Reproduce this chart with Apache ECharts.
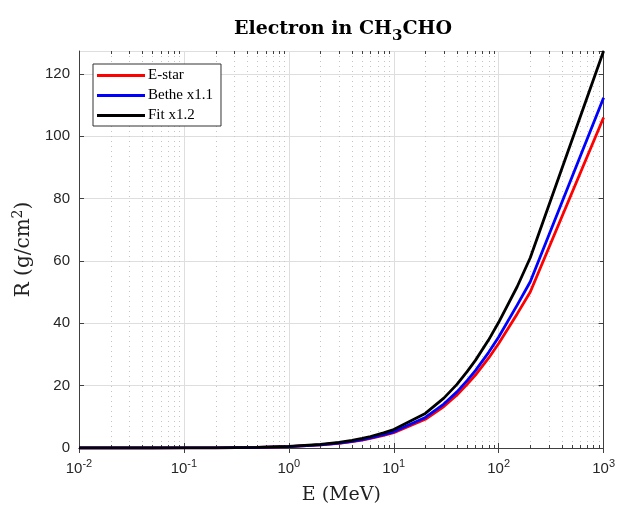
<!DOCTYPE html>
<html>
<head>
<meta charset="utf-8">
<script src="https://cdn.jsdelivr.net/npm/echarts@6/dist/echarts.min.js"></script>
<style>
  html, body { margin: 0; padding: 0; background: #fff; }
  #chart { width: 618px; height: 510px; }
</style>
</head>
<body>
<div id="chart"></div>
<script>
// energies (MeV)
const energy = [0.01, 0.02, 0.05, 0.1, 0.2, 0.5, 1, 2, 3, 4, 5, 6, 8, 10, 20, 30, 40, 50, 60, 80, 100, 150, 200, 1000];

// ranges R (g/cm^2)
const eStar = [0.0003, 0.0009, 0.0045, 0.015, 0.046, 0.18, 0.44, 0.98, 1.52, 2.05, 2.56, 3.06, 4.05, 4.9, 9.2, 13.3, 17.0, 20.4, 23.4, 28.8, 33.5, 43.0, 50.0, 106.0];
const bethe = [0.0003, 0.001, 0.005, 0.016, 0.05, 0.19, 0.46, 1.03, 1.6, 2.15, 2.7, 3.22, 4.25, 5.2, 9.8, 14.1, 18.0, 21.6, 24.8, 30.6, 35.6, 45.8, 53.3, 112.3];
const fit = [0.0004, 0.0011, 0.0055, 0.018, 0.055, 0.22, 0.53, 1.18, 1.83, 2.46, 3.08, 3.68, 4.86, 5.9, 11.1, 16.0, 20.4, 24.5, 28.1, 34.6, 40.3, 51.7, 61.0, 127.3];

const seriesNames = ['E-star', 'Bethe x1.1', 'Fit x1.2'];
const seriesColors = ['#ff0000', '#0000ff', '#000000'];

// minor log grid positions (2..9 in every decade)
const minorTicks = [];
[0.01, 0.1, 1, 10, 100].forEach(d => {
  for (let k = 2; k <= 9; k++) minorTicks.push(+(d * k).toPrecision(3));
});

const chart = echarts.init(document.getElementById('chart'));

const axisColor = '#404040';
const labelFont = 'Liberation Sans, Arial, sans-serif';
const serif = 'DejaVu Serif, serif';
const legendSerif = 'Liberation Serif, Times New Roman, serif';

function pairs(ys) {
  return energy.map((e, i) => [e, ys[i]]);
}

const option = {
  animation: false,
  title: {
    text: '{b|Electron in CH}{s|3}{b|CHO}',
    left: 338,
    top: 10,
    textAlign: 'center',
    textStyle: {
      rich: {
        b: { fontFamily: serif, fontWeight: 'bold', fontSize: 19, color: '#000' },
        s: { fontFamily: serif, fontWeight: 'bold', fontSize: 15, color: '#000', padding: [14, 0, 0, 0] }
      }
    }
  },
  grid: { left: 79, right: 13, top: 51, bottom: 57 },
  legend: {
    data: seriesNames,
    orient: 'vertical',
    left: 93,
    top: 64,
    itemWidth: 48,
    itemHeight: 3,
    itemGap: 5,
    icon: 'rect',
    padding: [4, 8, 3, 4],
    borderColor: '#333',
    borderWidth: 1,
    backgroundColor: '#fff',
    textStyle: { fontFamily: legendSerif, fontSize: 15, color: '#000', padding: [0, 0, 0, -2] }
  },
  xAxis: [
    {
      type: 'log',
      logBase: 10,
      min: 0.01,
      max: 1000,
      name: 'E (MeV)',
      nameLocation: 'middle',
      nameGap: 38,
      nameTextStyle: { fontFamily: serif, fontSize: 19, color: '#222' },
      axisLine: { lineStyle: { color: axisColor, width: 1 } },
      axisTick: { inside: true, length: 5, lineStyle: { color: axisColor } },
      axisLabel: {
        margin: 10,
        formatter: v => '{n|10}{e|' + Math.round(Math.log10(v)) + '}',
        rich: {
          n: { fontFamily: labelFont, fontSize: 15, color: '#262626' },
          e: { fontFamily: labelFont, fontSize: 11, color: '#262626', padding: [0, 0, 10, 0] }
        }
      },
      splitLine: { show: true, lineStyle: { color: '#dedede', width: 1 } }
    },
    {
      type: 'log',
      logBase: 10,
      min: 0.01,
      max: 1000,
      position: 'top',
      axisLine: { lineStyle: { color: axisColor, width: 1 } },
      axisTick: { inside: true, length: 5, lineStyle: { color: axisColor } },
      axisLabel: { show: false },
      splitLine: { show: false }
    }
  ],
  yAxis: [
    {
      type: 'value',
      min: 0,
      max: 127.3,
      interval: 20,
      name: '{r|R (g/cm}{p|2}{r|)}',
      nameLocation: 'middle',
      nameGap: 42,
      nameRotate: 90,
      nameTextStyle: {
        rich: {
          r: { fontFamily: serif, fontSize: 20, color: '#222' },
          p: { fontFamily: serif, fontSize: 14, color: '#222', padding: [0, 0, 12, 0] }
        }
      },
      axisLine: { show: true, lineStyle: { color: axisColor, width: 1 } },
      axisTick: { show: true, inside: true, length: 5, lineStyle: { color: axisColor } },
      axisLabel: { fontFamily: labelFont, fontSize: 15, color: '#262626', margin: 9, showMaxLabel: false },
      splitLine: { show: true, lineStyle: { color: '#dedede', width: 1 } }
    },
    {
      type: 'value',
      min: 0,
      max: 127.3,
      interval: 20,
      position: 'right',
      axisLine: { show: true, lineStyle: { color: axisColor, width: 1 } },
      axisTick: { show: true, inside: true, length: 5, lineStyle: { color: axisColor } },
      axisLabel: { show: false },
      splitLine: { show: false }
    }
  ],
  series: [
    {
      name: 'minor',
      type: 'custom',
      silent: true,
      xAxisIndex: 0,
      yAxisIndex: 0,
      z: 1,
      data: minorTicks.map(v => [v, 0]),
      renderItem: function (params, api) {
        const x = Math.round(api.coord([api.value(0), 0])[0]) + 0.5;
        const cs = params.coordSys;
        const top = cs.y, bottom = cs.y + cs.height;
        return {
          type: 'group',
          children: [
            { type: 'line', shape: { x1: x, y1: top, x2: x, y2: bottom },
              style: { stroke: '#c4c4c4', lineWidth: 1, lineDash: [1, 4] } },
            { type: 'line', shape: { x1: x, y1: bottom, x2: x, y2: bottom - 3 },
              style: { stroke: axisColor, lineWidth: 1 } },
            { type: 'line', shape: { x1: x, y1: top, x2: x, y2: top + 3 },
              style: { stroke: axisColor, lineWidth: 1 } }
          ]
        };
      }
    },
    ...seriesNames.map((name, i) => ({
      name: name,
      type: 'line',
      xAxisIndex: 0,
      yAxisIndex: 0,
      data: pairs([eStar, bethe, fit][i]),
      symbol: 'none',
      z: 3 + i,
      itemStyle: { color: seriesColors[i] },
      lineStyle: { color: seriesColors[i], width: 2.8 }
    }))
  ]
};

chart.setOption(option);
</script>
</body>
</html>
